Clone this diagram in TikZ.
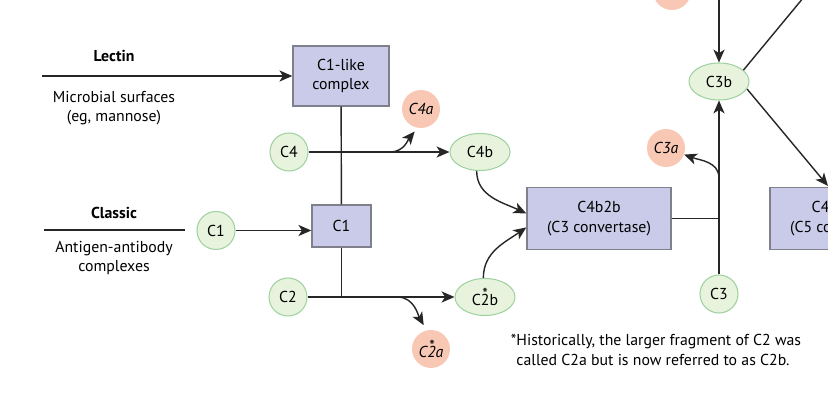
\documentclass[tikz,border=0pt]{standalone}
\usepackage{fontspec}
\setmainfont{PT Sans}
\usepackage{tikz}
\usetikzlibrary{arrows.meta, positioning, shapes.geometric}

\definecolor{boxfill}{RGB}{201,203,232}
\definecolor{boxline}{RGB}{128,128,140}
\definecolor{compfill}{RGB}{232,243,222}
\definecolor{compline}{RGB}{160,210,160}
\definecolor{fragfill}{RGB}{248,200,180}

% star set over one character (C*2b, C*2a)
\newcommand\starover[1]{\setbox0\hbox{#1}\rlap{\raisebox{0.6\ht0}{\makebox[\wd0]{*}}}#1}

\begin{document}
\begin{tikzpicture}[x=0.03cm, y=-0.03cm,
    font=\fontsize{13.5}{16.5}\selectfont,
    box/.style={draw=boxline, fill=boxfill, line width=1.2pt, minimum width=2.88cm,
      minimum height=1.8cm, align=center, inner sep=2pt},
    comp/.style={draw=compline, fill=compfill, line width=0.9pt, circle,
      minimum size=1.14cm, inner sep=0pt},
    compl/.style={comp, ellipse, minimum width=1.8cm, minimum height=1.11cm},
    frag/.style={circle, fill=fragfill, minimum size=1.14cm, inner sep=0pt,
      font=\fontsize{13.5}{16.5}\selectfont\itshape},
    head/.style={font=\fontsize{13.5}{16.5}\selectfont\bfseries},
    src/.style={align=center},
    lin/.style={line width=1.2pt, black!85},
    arr/.style={-{Stealth[length=11pt, width=9.5pt, inset=3pt]}, line width=1.2pt, black!85}
  ]
  \useasboundingbox (0,0) rectangle (828,401);
  \clip (0,0) rectangle (828,401);

  % pathways
  \node[head] (lectin) at (114,56) {Lectin};
  \node[src] (microbes) at (114,108) {Microbial surfaces\\(eg, mannose)};
  \node[head] (classic) at (114,213) {Classic};
  \node[src] (antigen) at (114,258) {Antigen-antibody\\complexes};
  \coordinate (lectinstart) at (42,76);
  \coordinate (classicstart) at (44,230);
  \coordinate (classicend) at (185,230);

  % enzyme complexes
  \node[box] (c1like) at (341,76) {C1-like\\complex};
  \node[box, minimum width=1.77cm, minimum height=1.26cm] (c1box) at (341.5,226) {C1};
  \node[box, minimum width=4.32cm, minimum height=1.86cm] (c4b2b) at (599,218.5) {C4b2b\\(C3 convertase)};
  \node[box, minimum width=4.32cm, minimum height=1.86cm] (c4b2b3b) at (842,218.5) {C4b2b3b\\(C5 convertase)};

  % components
  \node[comp] (c1) at (216,230.5) {C1};
  \node[comp] (c4) at (289,152) {C4};
  \node[comp] (c2) at (288,297) {C2};
  \node[comp] (c3) at (719,294) {C3};
  \node[compl] (c4b) at (480,152) {C4b};
  \node[compl] (c2b) at (485,297) {C\starover{2}b};
  \node[compl] (c3b) at (719,81.5) {C3b};
  \node[frag] (c4a) at (421,109) {C4a};
  \node[frag] (c2a) at (431,349) {C\starover{2}a};
  \node[frag] (c3a) at (666,148) {C3a};
  \node[frag] (c5a) at (672,-9) {};

  \node[align=left] (note) at (656,350) {*Historically, the larger fragment of C2 was\\\hphantom{*}called C2a but is now referred to as C2b.};

  \coordinate (c4fork) at (390,152);
  \coordinate (c2fork) at (397,297);
  \coordinate (c2join) at (c1box |- c2);
  \coordinate (c3join) at (c4b2b.east -| c3);
  \coordinate (c3fork) at (719,178);
  \coordinate (topin) at (719,-20);
  \coordinate (topright) at (818,-20);
  \coordinate (c5in) at (828,186);

  \draw[arr] (lectinstart) -- (c1like);
  \draw[lin] (classicstart) -- (classicend);
  \draw[arr] (c1) -- (c1 -| c1box.west);
  \draw[lin] (c1like) -- (c1box);
  \draw[lin] (c1box) -- (c2join);
  \draw[arr] (c4) -- (c4b);
  \draw[arr, shorten >=4pt] (c4fork) to[out=0, in=-130] (c4a.-100);
  \draw[arr] (c2) -- (c2b);
  \draw[arr, shorten >=5pt] (c2fork) to[out=0, in=120] (c2a.103);
  \draw[arr] (c4b.-100) to[out=-90, in=155] (c4b2b.176);
  \draw[arr] (c2b.95) to[out=90, in=-145] (c4b2b.187);
  \draw[lin] (c4b2b.east) -- (c3join);
  \draw[arr] (c3) -- (c3b);
  \draw[arr] (c3fork) to[out=90, in=-20] (c3a);
  \draw[arr] (topin) -- (c3b);
  \draw[lin] (topright) -- (c3b.25);
  \draw[arr] (c3b.-15) -- (c5in);
\end{tikzpicture}
\end{document}
